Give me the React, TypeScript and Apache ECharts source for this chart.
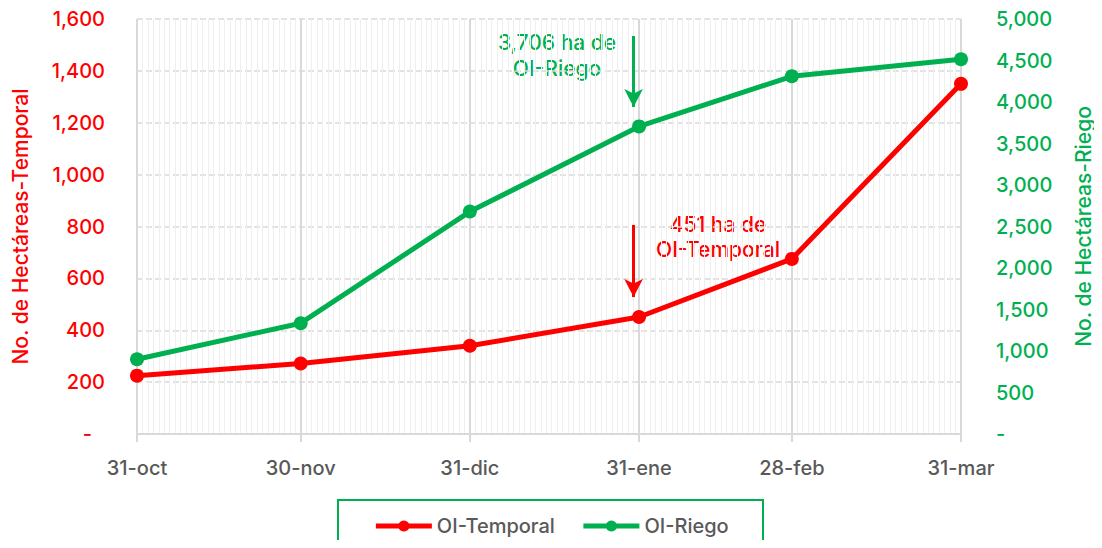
import React, { useEffect, useRef } from "react";
import * as echarts from "echarts";

const dateLabels = ["31-oct", "30-nov", "31-dic", "31-ene", "28-feb", "31-mar"];
const dayOffsets = [0, 30, 61, 92, 120, 151];
const temporal = [225, 272, 340, 451, 675, 1350];
const riego = [900, 1335, 2680, 3706, 4310, 4515];
const leftTicks = { min: 0, max: 1600, interval: 200 };
const rightTicks = { min: 0, max: 5000, interval: 500 };

const RED = "#FF0000";
const GREEN = "#00B050";
const GREY = "#595959";
const FONT = "Inter, 'Open Sans', sans-serif";
const FS = 20;
const FW = 500;

export default function App() {
  const ref = useRef<HTMLDivElement>(null);
  useEffect(() => {
    if (!ref.current) return;
    const chart = echarts.init(ref.current, undefined, { renderer: "svg" });
    const totalDays = dayOffsets[dayOffsets.length - 1];
    const days: string[] = [];
    for (let i = 0; i <= totalDays; i++) days.push(String(i));
    const isMajor = (idx: number) => dayOffsets.indexOf(idx) >= 0;
    const fmt = (v: number) => v.toLocaleString("en-US");

    chart.setOption({
      animation: false,
      textStyle: { fontFamily: FONT, fontWeight: FW },
      grid: { left: 137, right: 141, top: 19, bottom: 114 },
      legend: {
        left: "center",
        top: 511,
        itemWidth: 56,
        itemHeight: 14,
        itemGap: 26,
        lineStyle: { width: 5 },
        textStyle: { color: GREY, fontSize: FS, fontFamily: FONT, fontWeight: FW },
        data: ["OI-Temporal", "OI-Riego"],
      },
      xAxis: [
        {
          type: "category",
          data: days,
          boundaryGap: false,
          position: "bottom",
          axisLine: { show: false },
          axisTick: { show: false },
          axisLabel: { show: false },
          splitLine: { show: true, interval: 0, lineStyle: { color: "#efefef", width: 1 } },
        },
        {
          type: "category",
          data: days,
          boundaryGap: false,
          position: "bottom",
          axisLine: { show: true, lineStyle: { color: "#d9d9d9", width: 2 } },
          axisTick: {
            show: true,
            interval: (idx: number) => isMajor(idx),
            length: 8,
            lineStyle: { color: "#d9d9d9", width: 2 },
          },
          axisLabel: {
            interval: (idx: number) => isMajor(idx),
            formatter: (v: string) => {
              const k = dayOffsets.indexOf(Number(v));
              return k >= 0 ? dateLabels[k] : "";
            },
            color: GREY,
            fontSize: FS,
            fontWeight: FW,
            margin: 24,
            fontFamily: FONT,
          },
          splitLine: {
            show: true,
            interval: (idx: number) => isMajor(idx),
            lineStyle: { color: "#d9d9d9", width: 2 },
          },
        },
      ],
      yAxis: [
        {
          type: "value",
          ...leftTicks,
          position: "left",
          name: "No. de Hectáreas-Temporal",
          nameLocation: "middle",
          nameGap: 106,
          nameRotate: 90,
          nameTextStyle: { color: RED, fontSize: 21, fontFamily: FONT, fontWeight: FW },
          axisLine: { show: false },
          axisTick: { show: false },
          axisLabel: {
            color: RED,
            fontSize: FS,
            fontWeight: FW,
            margin: 32,
            fontFamily: FONT,
            formatter: (v: number) => (v === 0 ? "{z|-}" : fmt(v)),
            rich: { z: { color: RED, fontSize: FS, fontWeight: FW, padding: [0, 13, 0, 0], fontFamily: FONT } },
          },
          splitLine: { show: true, lineStyle: { color: "#d9d9d9", type: "dashed", width: 1.5 } },
        },
        {
          type: "value",
          ...rightTicks,
          position: "right",
          name: "No. de Hectáreas-Riego",
          nameLocation: "middle",
          nameGap: 112,
          nameRotate: 90,
          nameTextStyle: { color: GREEN, fontSize: 21, fontFamily: FONT, fontWeight: FW },
          axisLine: { show: false },
          axisTick: { show: false },
          axisLabel: {
            color: GREEN,
            fontSize: FS,
            fontWeight: FW,
            margin: 35,
            fontFamily: FONT,
            formatter: (v: number) => (v === 0 ? "-" : fmt(v)),
          },
          splitLine: { show: false },
        },
      ],
      series: [
        {
          name: "OI-Temporal",
          type: "line",
          xAxisIndex: 1,
          yAxisIndex: 0,
          data: dayOffsets.map((d, i) => [d, temporal[i]]),
          symbol: "circle",
          symbolSize: 14,
          lineStyle: { color: RED, width: 5 },
          itemStyle: { color: RED },
          z: 3,
          markLine: {
            silent: true,
            symbol: ["none", "arrow"],
            symbolSize: [14, 18],
            label: { show: false },
            lineStyle: { color: RED, width: 3, type: "solid" },
            emphasis: { disabled: true },
            data: [[{ coord: [91, 806] }, { coord: [91, 528] }]],
          },
        },
        {
          name: "OI-Riego",
          type: "line",
          xAxisIndex: 1,
          yAxisIndex: 1,
          data: dayOffsets.map((d, i) => [d, riego[i]]),
          symbol: "circle",
          symbolSize: 14,
          lineStyle: { color: GREEN, width: 5 },
          itemStyle: { color: GREEN },
          z: 2,
          markLine: {
            silent: true,
            symbol: ["none", "arrow"],
            symbolSize: [14, 18],
            label: { show: false },
            lineStyle: { color: GREEN, width: 3, type: "solid" },
            emphasis: { disabled: true },
            data: [[{ coord: [91, 4795] }, { coord: [91, 3940] }]],
          },
        },
      ],
      graphic: [
        {
          type: "rect",
          shape: { x: 338, y: 500, width: 425, height: 70 },
          style: { fill: "none", stroke: GREEN, lineWidth: 2 },
          silent: true,
          z: -1,
        },
        {
          type: "text",
          x: 557,
          y: 29,
          style: {
            text: "3,706 ha de\nOI-Riego",
            fill: GREEN,
            fontSize: 21,
            fontWeight: FW,
            fontFamily: FONT,
            lineHeight: 26,
            align: "center",
            verticalAlign: "top",
          },
          silent: true,
        },
        {
          type: "text",
          x: 718,
          y: 212,
          style: {
            text: "451 ha de\nOI-Temporal",
            fill: RED,
            fontSize: 21,
            fontWeight: FW,
            fontFamily: FONT,
            lineHeight: 25,
            align: "center",
            verticalAlign: "top",
          },
          silent: true,
        },
      ],
    });
    return () => chart.dispose();
  }, []);
  return <div ref={ref} style={{ width: 1102, height: 548, margin: -8 }} />;
}
